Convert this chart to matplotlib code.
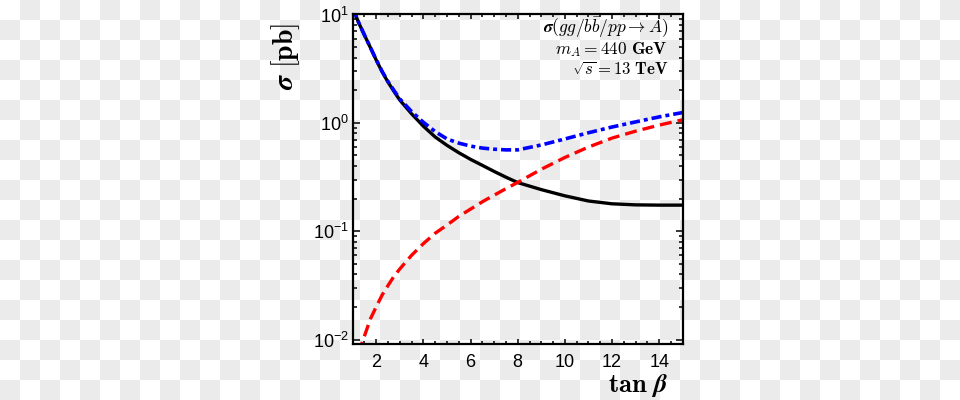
import numpy as np
import matplotlib
matplotlib.use("Agg")
import matplotlib.pyplot as plt
from matplotlib.ticker import MultipleLocator, LogLocator, NullFormatter

plt.rcParams['font.family'] = ['Liberation Sans', 'DejaVu Sans']
plt.rcParams['mathtext.fontset'] = 'cm'

# tan(beta) grid and cross sections [pb]
tanb = [1.0, 1.25, 1.5, 1.75, 2.0, 2.25, 2.5, 2.75, 3.0, 3.5, 4.0, 4.5, 5.0, 5.5,
        6.0, 6.5, 7.0, 7.5, 8.0, 9.0, 10.0, 11.0, 12.0, 13.0, 14.0, 15.0]
sigma_gg = [11.5, 8.43, 6.44, 4.95, 3.79, 2.95, 2.37, 1.95, 1.62, 1.21, 0.93, 0.74, 0.62, 0.53,
            0.46, 0.405, 0.356, 0.315, 0.281, 0.242, 0.212, 0.190, 0.179, 0.175, 0.174, 0.174]
sigma_bb = [0.0052, 0.0075, 0.0108, 0.0155, 0.0201, 0.0258, 0.0316, 0.0383, 0.0449, 0.060, 0.0769, 0.0958, 0.114, 0.137,
            0.160, 0.187, 0.215, 0.247, 0.282, 0.373, 0.479, 0.598, 0.723, 0.838, 0.953, 1.067]
sigma_pp = [11.5, 8.44, 6.45, 4.97, 3.81, 2.98, 2.40, 1.99, 1.66, 1.27, 1.01, 0.83, 0.71, 0.65,
            0.61, 0.585, 0.571, 0.563, 0.563, 0.625, 0.71, 0.81, 0.915, 1.02, 1.135, 1.245]

fig = plt.figure(figsize=(9.6, 4), dpi=100)

# transparent-png checkerboard behind everything
bg = fig.add_axes([0, 0, 1, 1], zorder=-1)
yy, xx = np.indices((20, 48))
bg.imshow((xx + yy) % 2, cmap=matplotlib.colors.ListedColormap(['white', '#ebebeb']),
          interpolation='nearest', aspect='auto', extent=[0, 960, 400, 0])
bg.axis('off')

ax = fig.add_axes([0.3674, 0.14, 0.3438, 0.8238])
ax.set_facecolor('none')

ax.plot(tanb, sigma_gg, color='black', lw=2.4, solid_capstyle='butt')
ax.plot(tanb, sigma_bb, color='#ff0000', lw=2.4, dashes=(3.6, 1.8))
ax.plot(tanb, sigma_pp, color='#0000ff', lw=2.6, dashes=(2.8, 1.1, 1.1, 1.1))

ax.set_yscale('log')
ax.set_xlim(1, 15)
ax.set_ylim(0.0091, 10)

ax.xaxis.set_major_locator(MultipleLocator(2))
ax.xaxis.set_minor_locator(MultipleLocator(0.5))
ax.yaxis.set_major_locator(LogLocator(base=10))
ax.yaxis.set_minor_locator(LogLocator(base=10, subs=np.arange(2, 10)))
ax.yaxis.set_minor_formatter(NullFormatter())

ax.tick_params(which='both', direction='in', top=True, right=True, width=1.1, labelsize=13)
ax.tick_params(axis='x', which='major', length=3.8, pad=7)
ax.tick_params(axis='x', which='minor', length=2.2)
ax.tick_params(axis='y', which='major', length=5, pad=3)
ax.tick_params(axis='y', which='minor', length=3)
for s in ax.spines.values():
    s.set_linewidth(1.6)

ax.set_xlabel(r'$\mathbf{tan}\ \boldsymbol{\beta}$', fontsize=19, loc='right')
ax.xaxis.set_label_coords(0.955, -0.085)
ax.set_ylabel(r'$\boldsymbol{\sigma}\ \mathbf{[pb]}$', fontsize=20, loc='top')
ax.yaxis.set_label_coords(-0.153, 0.974)

ax.text(0.955, 0.943, r'$\boldsymbol{\sigma}(gg/b\bar{b}/pp \rightarrow A)$',
        transform=ax.transAxes, ha='right', va='baseline', fontsize=12.5)
ax.text(0.955, 0.880, r'$m_A = 440\ \mathbf{GeV}$',
        transform=ax.transAxes, ha='right', va='baseline', fontsize=12.5)
ax.text(0.955, 0.815, r'$\sqrt{s} = 13\ \mathbf{TeV}$',
        transform=ax.transAxes, ha='right', va='baseline', fontsize=12)

fig.savefig('out.png', dpi=100)
